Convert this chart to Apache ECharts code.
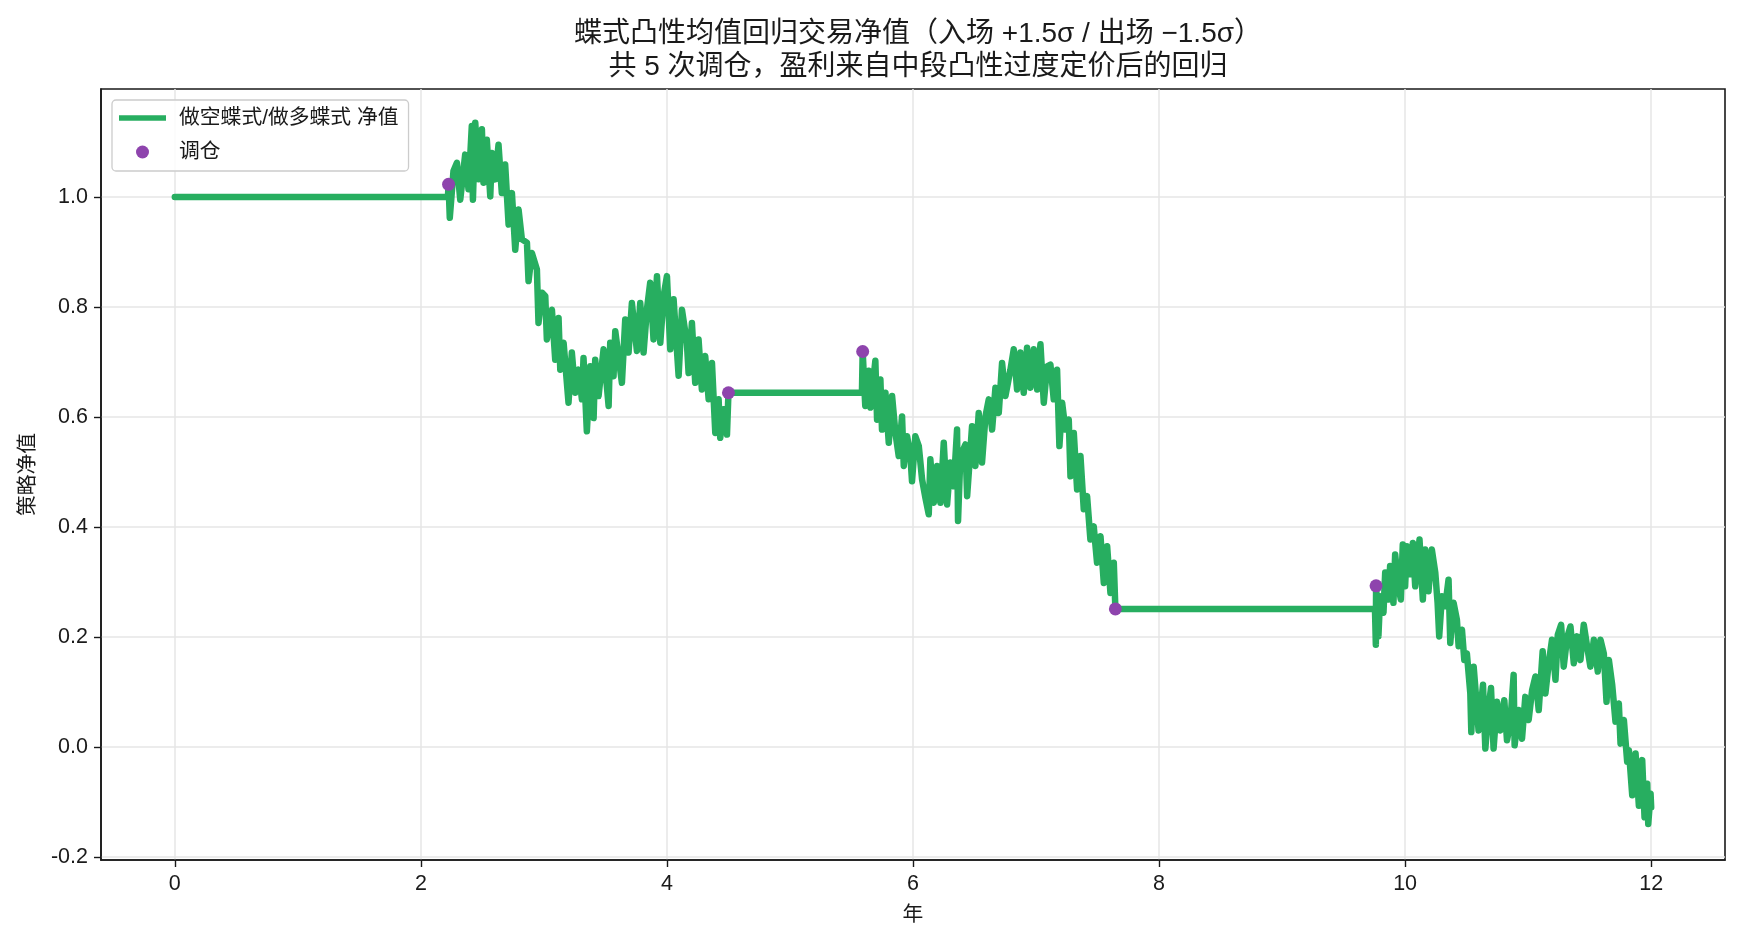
<!DOCTYPE html>
<html>
<head>
<meta charset="utf-8">
<script src="https://cdn.jsdelivr.net/npm/echarts@6/dist/echarts.min.js"></script>
<style>
  html, body { margin: 0; padding: 0; background: #fff; }
  #chart { width: 1740px; height: 944px; }
</style>
</head>
<body>
<div id="chart"></div>
<script>
const FONT = "'Liberation Sans', Arial, 'Noto Sans CJK SC', sans-serif";

// flat start before the first entry
const idleYears = [0, 2.22];
const idleNav = [1.0, 1.0];

// first active period (entry 2.2y, exit 4.5y)
const years1 = [2.225, 2.235, 2.265, 2.293, 2.32, 2.36, 2.387, 2.414, 2.423, 2.442, 2.469, 2.496, 2.509, 2.536, 2.564, 2.577, 2.604, 2.631, 2.658, 2.685, 2.713, 2.74, 2.767, 2.794, 2.821, 2.862, 2.875, 2.902, 2.943, 2.956, 2.984, 3.011, 3.024, 3.065, 3.092, 3.119, 3.133, 3.16, 3.2, 3.227, 3.255, 3.282, 3.309, 3.322, 3.349, 3.377, 3.404, 3.417, 3.444, 3.485, 3.526, 3.539, 3.566, 3.58, 3.634, 3.661, 3.688, 3.715, 3.756, 3.783, 3.81, 3.837, 3.864, 3.891, 3.919, 3.946, 3.973, 4.0, 4.027, 4.054, 4.095, 4.122, 4.162, 4.176, 4.203, 4.23, 4.257, 4.284, 4.311, 4.339, 4.366, 4.393, 4.42, 4.433, 4.461, 4.488, 4.5, 5.585];
const nav1 = [1.023, 0.962, 1.047, 1.062, 0.995, 1.077, 1.014, 1.129, 0.995, 1.135, 1.032, 1.123, 1.026, 1.104, 1.001, 1.08, 1.032, 1.095, 1.007, 1.059, 0.95, 1.007, 0.904, 0.977, 0.923, 0.917, 0.847, 0.898, 0.868, 0.771, 0.826, 0.82, 0.741, 0.795, 0.704, 0.78, 0.686, 0.735, 0.626, 0.717, 0.644, 0.686, 0.632, 0.707, 0.574, 0.692, 0.598, 0.704, 0.638, 0.723, 0.62, 0.735, 0.674, 0.756, 0.662, 0.777, 0.717, 0.807, 0.72, 0.807, 0.717, 0.795, 0.844, 0.741, 0.856, 0.735, 0.82, 0.856, 0.723, 0.814, 0.675, 0.795, 0.735, 0.68, 0.771, 0.662, 0.741, 0.65, 0.711, 0.632, 0.698, 0.571, 0.632, 0.562, 0.614, 0.568, 0.644, 0.644];

// second active period (entry 5.6y, exit 7.6y)
const years2 = [5.591, 5.612, 5.64, 5.654, 5.694, 5.708, 5.735, 5.748, 5.776, 5.803, 5.83, 5.857, 5.884, 5.911, 5.925, 5.952, 5.979, 5.992, 6.019, 6.047, 6.074, 6.101, 6.128, 6.141, 6.169, 6.196, 6.223, 6.25, 6.277, 6.304, 6.331, 6.358, 6.366, 6.385, 6.426, 6.44, 6.48, 6.507, 6.534, 6.561, 6.589, 6.616, 6.643, 6.67, 6.697, 6.724, 6.751, 6.792, 6.819, 6.846, 6.873, 6.9, 6.927, 6.954, 6.982, 7.009, 7.036, 7.063, 7.09, 7.117, 7.144, 7.171, 7.19, 7.212, 7.239, 7.266, 7.28, 7.307, 7.334, 7.361, 7.388, 7.415, 7.442, 7.469, 7.496, 7.524, 7.551, 7.578, 7.605, 7.632, 7.645, 9.755];
const nav2 = [0.719, 0.62, 0.684, 0.617, 0.702, 0.595, 0.668, 0.577, 0.644, 0.553, 0.638, 0.571, 0.529, 0.601, 0.511, 0.565, 0.529, 0.483, 0.565, 0.547, 0.486, 0.453, 0.423, 0.523, 0.444, 0.511, 0.444, 0.553, 0.441, 0.517, 0.474, 0.577, 0.411, 0.529, 0.55, 0.456, 0.583, 0.511, 0.607, 0.517, 0.601, 0.632, 0.577, 0.653, 0.607, 0.698, 0.638, 0.686, 0.723, 0.65, 0.717, 0.644, 0.726, 0.653, 0.723, 0.65, 0.732, 0.626, 0.692, 0.695, 0.632, 0.686, 0.547, 0.626, 0.577, 0.595, 0.492, 0.571, 0.468, 0.529, 0.432, 0.456, 0.377, 0.401, 0.335, 0.383, 0.298, 0.365, 0.28, 0.335, 0.251, 0.251];

// third active period (entry 9.8y, runs to the end)
const years3 = [9.762, 9.764, 9.783, 9.797, 9.824, 9.838, 9.865, 9.878, 9.905, 9.919, 9.946, 9.965, 9.981, 10.0, 10.014, 10.041, 10.063, 10.082, 10.117, 10.144, 10.163, 10.19, 10.217, 10.245, 10.264, 10.277, 10.299, 10.326, 10.353, 10.367, 10.394, 10.421, 10.435, 10.462, 10.481, 10.502, 10.53, 10.538, 10.557, 10.57, 10.597, 10.633, 10.652, 10.679, 10.698, 10.719, 10.747, 10.774, 10.806, 10.828, 10.855, 10.882, 10.89, 10.923, 10.95, 10.977, 11.004, 11.032, 11.059, 11.086, 11.118, 11.14, 11.167, 11.194, 11.222, 11.241, 11.268, 11.289, 11.316, 11.344, 11.371, 11.398, 11.425, 11.452, 11.479, 11.506, 11.534, 11.566, 11.588, 11.615, 11.637, 11.656, 11.683, 11.71, 11.737, 11.751, 11.778, 11.805, 11.819, 11.846, 11.873, 11.9, 11.927, 11.946, 11.968, 11.976, 11.995, 12.0];
const nav3 = [0.186, 0.293, 0.201, 0.274, 0.244, 0.317, 0.268, 0.329, 0.262, 0.35, 0.292, 0.268, 0.368, 0.292, 0.365, 0.314, 0.371, 0.292, 0.377, 0.268, 0.359, 0.283, 0.359, 0.317, 0.262, 0.201, 0.274, 0.256, 0.304, 0.189, 0.262, 0.231, 0.183, 0.213, 0.158, 0.17, 0.097, 0.027, 0.146, 0.11, 0.03, 0.113, -0.003, 0.073, 0.107, -0.003, 0.082, 0.03, 0.085, 0.012, 0.043, 0.131, 0.003, 0.067, 0.015, 0.091, 0.049, 0.103, 0.128, 0.067, 0.174, 0.097, 0.152, 0.195, 0.122, 0.204, 0.222, 0.146, 0.198, 0.219, 0.152, 0.201, 0.158, 0.222, 0.183, 0.146, 0.195, 0.137, 0.195, 0.17, 0.082, 0.158, 0.113, 0.046, 0.079, 0.006, 0.049, -0.027, -0.006, -0.088, -0.012, -0.107, -0.024, -0.128, -0.067, -0.14, -0.085, -0.11];

const rebalanceYears = [2.225, 4.5, 5.591, 7.645, 9.764];
const rebalanceNav = [1.023, 0.644, 0.719, 0.251, 0.293];

const xTicks = [0, 2, 4, 6, 8, 10, 12];
const yTicks = [-0.2, 0, 0.2, 0.4, 0.6, 0.8, 1.0];

const zip = (xs, ys) => xs.map((x, i) => [x, ys[i]]);

const navData = [
  ...zip(idleYears, idleNav),
  ...zip(years1, nav1),
  ...zip(years2, nav2),
  ...zip(years3, nav3),
];
const rebalanceData = zip(rebalanceYears, rebalanceNav);

const chart = echarts.init(document.getElementById("chart"), null, { renderer: "canvas" });

const axisCommon = {
  axisLine: { show: true, onZero: false, lineStyle: { color: "#1a1a1a", width: 1.6 } },
  axisTick: { show: true, length: 7, lineStyle: { color: "#1a1a1a", width: 1.4 } },
  splitLine: { show: true, lineStyle: { color: "#e6e6e6", width: 1.5 } },
  nameTextStyle: { color: "#1a1a1a", fontSize: 20.8, fontFamily: FONT },
};

chart.setOption({
  animation: false,
  backgroundColor: "#fff",
  title: {
    text: "蝶式凸性均值回归交易净值（入场 +1.5σ / 出场 −1.5σ）\n共 5 次调仓，盈利来自中段凸性过度定价后的回归",
    left: 913,
    top: 13,
    textAlign: "center",
    textStyle: {
      color: "#1a1a1a",
      fontSize: 28,
      fontWeight: "normal",
      fontFamily: FONT,
      lineHeight: 33,
    },
  },
  grid: {
    left: 101,
    right: 15,
    top: 89,
    bottom: 84,
    show: true,
    borderColor: "#1a1a1a",
    borderWidth: 1.6,
    backgroundColor: "transparent",
  },
  legend: {
    orient: "vertical",
    left: 112,
    top: 100,
    padding: [7, 10, 8, 7],
    itemWidth: 47,
    itemHeight: 13,
    itemGap: 12,
    backgroundColor: "rgba(255,255,255,0.85)",
    borderColor: "#cccccc",
    borderWidth: 1.3,
    borderRadius: 4,
    textStyle: {
      color: "#1a1a1a",
      fontSize: 20.8,
      fontFamily: FONT,
      lineHeight: 22,
      padding: [0, 0, 0, 8],
    },
    data: [
      { name: "做空蝶式/做多蝶式 净值", icon: "path://M0 0H100V12H0Z", itemStyle: { color: "#27ae60" } },
      { name: "调仓", icon: "circle", itemStyle: { color: "#8e44ad", opacity: 1 } },
    ],
  },
  xAxis: {
    ...axisCommon,
    type: "value",
    min: -0.6,
    max: 12.6,
    name: "年",
    nameLocation: "middle",
    nameGap: 45,
    axisTick: { ...axisCommon.axisTick, customValues: xTicks },
    axisLabel: {
      customValues: xTicks,
      margin: 13,
      color: "#1a1a1a",
      fontSize: 21.5,
      fontFamily: FONT,
      formatter: (v) => String(v),
    },
  },
  yAxis: {
    ...axisCommon,
    type: "value",
    min: -0.2056,
    max: 1.1963,
    name: "策略净值",
    nameLocation: "middle",
    nameGap: 62,
    axisTick: { ...axisCommon.axisTick, customValues: yTicks },
    axisLabel: {
      customValues: yTicks,
      margin: 13,
      color: "#1a1a1a",
      fontSize: 21.5,
      fontFamily: FONT,
      formatter: (v) => v.toFixed(1),
    },
  },
  series: [
    {
      name: "做空蝶式/做多蝶式 净值",
      type: "line",
      data: navData,
      symbol: "none",
      sampling: null,
      lineStyle: { color: "#27ae60", width: 6.5, join: "round", cap: "round" },
      itemStyle: { color: "#27ae60" },
      z: 2,
    },
    {
      name: "调仓",
      type: "scatter",
      data: rebalanceData,
      symbol: "circle",
      symbolSize: 13,
      itemStyle: { color: "#8e44ad", opacity: 1 },
      z: 3,
    },
  ],
});
</script>
</body>
</html>
